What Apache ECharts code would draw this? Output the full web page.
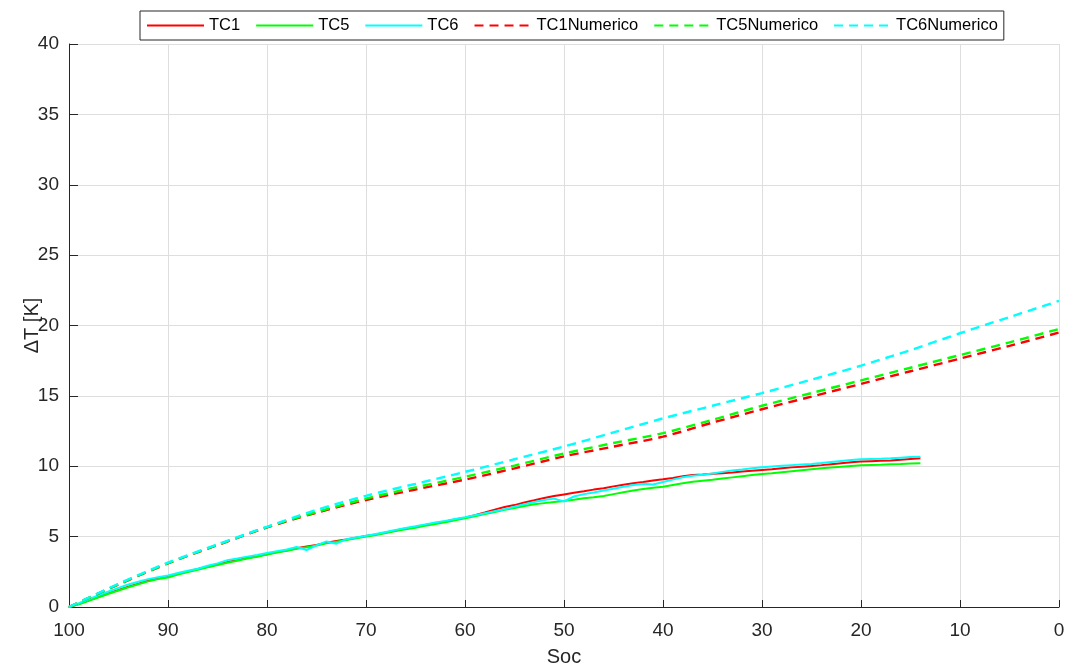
<!DOCTYPE html>
<html>
<head>
<meta charset="utf-8">
<script src="https://cdn.jsdelivr.net/npm/echarts@6/dist/echarts.min.js"></script>
<style>
  html, body { margin: 0; padding: 0; background: #fff; }
  #chart { width: 1073px; height: 668px; }
</style>
</head>
<body>
<div id="chart"></div>
<script>
// Measured temperature rise along the discharge (state of charge, %)
const socMeasured = [
  100, 99, 98, 97, 96, 95, 94, 93, 92, 91, 90, 89, 88, 87, 86, 85, 84, 83, 82, 81,
  80, 79, 78, 77, 76, 75, 74, 73, 72, 71, 70, 69, 68, 67, 66, 65, 64, 63, 62, 61,
  60, 59, 58, 57, 56, 55, 54, 53, 52, 51, 50, 49, 48, 47, 46, 45, 44, 43, 42, 41,
  40, 39, 38, 37, 36, 35, 34, 33, 32, 31, 30, 29, 28, 27, 26, 25, 24, 23, 22, 21,
  20, 19, 18, 17, 16, 15, 14
];
const tc1 = [
  0.00, 0.22, 0.47, 0.72, 0.98, 1.21, 1.45, 1.66, 1.87, 2.03, 2.16, 2.36, 2.52, 2.70, 2.86, 3.02, 3.19, 3.33, 3.48, 3.60,
  3.75, 3.90, 4.02, 4.18, 4.30, 4.41, 4.57, 4.69, 4.80, 4.92, 5.04, 5.16, 5.29, 5.43, 5.57, 5.68, 5.83, 5.96, 6.08, 6.22,
  6.35, 6.52, 6.71, 6.92, 7.10, 7.24, 7.43, 7.58, 7.74, 7.88, 8.00, 8.12, 8.22, 8.34, 8.43, 8.57, 8.69, 8.80, 8.88, 8.98,
  9.07, 9.17, 9.29, 9.38, 9.42, 9.47, 9.51, 9.56, 9.62, 9.68, 9.74, 9.79, 9.86, 9.92, 9.97, 10.02, 10.08, 10.15, 10.22, 10.28,
  10.33, 10.36, 10.39, 10.41, 10.46, 10.52, 10.57
];
const tc5 = [
  0.00, 0.20, 0.44, 0.69, 0.94, 1.17, 1.40, 1.62, 1.82, 1.98, 2.10, 2.31, 2.48, 2.65, 2.82, 2.98, 3.14, 3.29, 3.44, 3.57,
  3.72, 3.87, 3.99, 4.14, 4.25, 4.37, 4.52, 4.64, 4.76, 4.88, 5.00, 5.12, 5.25, 5.39, 5.52, 5.63, 5.78, 5.90, 6.02, 6.16,
  6.30, 6.45, 6.60, 6.74, 6.90, 7.03, 7.17, 7.30, 7.38, 7.46, 7.53, 7.62, 7.72, 7.80, 7.89, 8.02, 8.15, 8.28, 8.38, 8.47,
  8.55, 8.67, 8.79, 8.90, 8.97, 9.04, 9.13, 9.21, 9.29, 9.37, 9.45, 9.51, 9.58, 9.65, 9.72, 9.79, 9.85, 9.91, 9.97, 10.02,
  10.07, 10.09, 10.11, 10.14, 10.16, 10.19, 10.21
];
const tc6 = [
  0.00, 0.27, 0.56, 0.84, 1.10, 1.36, 1.60, 1.80, 1.98, 2.12, 2.24, 2.42, 2.58, 2.72, 2.93, 3.10, 3.33, 3.44, 3.58, 3.70,
  3.84, 3.97, 4.09, 4.26, 4.05, 4.38, 4.66, 4.50, 4.82, 4.94, 5.06, 5.18, 5.33, 5.48, 5.62, 5.73, 5.87, 6.00, 6.12, 6.25,
  6.38, 6.52, 6.66, 6.80, 6.94, 7.12, 7.30, 7.46, 7.60, 7.70, 7.50, 7.85, 8.02, 8.14, 8.28, 8.40, 8.54, 8.66, 8.75, 8.70,
  8.88, 9.05, 9.22, 9.32, 9.40, 9.49, 9.60, 9.69, 9.77, 9.86, 9.93, 9.98, 10.03, 10.08, 10.12, 10.16, 10.23, 10.31, 10.38, 10.44,
  10.50, 10.52, 10.54, 10.57, 10.61, 10.65, 10.68
];

// Numerical model predictions
const socModel = [100, 95, 90, 85, 80, 75, 70, 65, 60, 55, 50, 45, 40, 35, 30, 25, 20, 15, 10, 5, 0];
const tc1Num = [0, 1.60, 3.10, 4.40, 5.65, 6.70, 7.60, 8.35, 9.05, 9.85, 10.70, 11.40, 12.10, 13.10, 14.05, 14.95, 15.85, 16.75, 17.65, 18.55, 19.50];
const tc5Num = [0, 1.62, 3.12, 4.42, 5.68, 6.75, 7.70, 8.50, 9.25, 10.05, 10.90, 11.65, 12.35, 13.30, 14.30, 15.20, 16.10, 17.00, 17.90, 18.80, 19.75];
const tc6Num = [0, 1.65, 3.15, 4.45, 5.70, 6.90, 7.90, 8.75, 9.60, 10.50, 11.40, 12.40, 13.40, 14.30, 15.20, 16.15, 17.15, 18.25, 19.45, 20.60, 21.75];

const xTicks = { min: 0, max: 100, step: 10 };
const yTicks = { min: 0, max: 40, step: 5 };

const pairs = (xs, ys) => xs.map((x, i) => [x, ys[i]]);

const RED = '#ff0000', GREEN = '#00ff00', CYAN = '#00ffff';
const AXIS = '#262626';
const FONT = 'Liberation Sans, Arial, Helvetica, sans-serif';

function solid(name, color, data) {
  return {
    name, type: 'line', data, symbol: 'none', showSymbol: false,
    lineStyle: { color, width: 2 }, itemStyle: { color },
    animation: false
  };
}
function dashed(name, color, data) {
  return {
    name, type: 'line', data, symbol: 'none', showSymbol: false, smooth: 0.3,
    lineStyle: { color, width: 2.4, type: [9, 6] }, itemStyle: { color },
    animation: false
  };
}

const chart = echarts.init(document.getElementById('chart'), null, { renderer: 'canvas' });
chart.setOption({
  backgroundColor: '#ffffff',
  textStyle: { fontFamily: FONT },
  legend: {
    left: 140, top: 11,
    padding: [6, 6, 6, 6],
    itemGap: 15, itemWidth: 57, itemHeight: 2,
    itemStyle: { opacity: 0 },
    borderColor: AXIS, borderWidth: 1, backgroundColor: '#ffffff',
    textStyle: { fontSize: 16.5, color: '#000', fontFamily: FONT, lineHeight: 16 },
    data: ['TC1', 'TC5', 'TC6', 'TC1Numerico', 'TC5Numerico', 'TC6Numerico']
  },
  grid: { left: 69, right: 14, top: 44, bottom: 61, containLabel: false, outerBoundsMode: 'none' },
  xAxis: {
    type: 'value', inverse: true,
    min: xTicks.min, max: xTicks.max, interval: xTicks.step,
    name: 'Soc', nameLocation: 'middle', nameGap: 40, nameMoveOverlap: false,
    nameTextStyle: { fontSize: 20, color: AXIS, fontFamily: FONT },
    axisLine: { show: true, onZero: false, lineStyle: { color: AXIS, width: 1 } },
    axisTick: { show: true, inside: true, length: 7, lineStyle: { color: AXIS } },
    axisLabel: { fontSize: 19, color: AXIS, margin: 14, fontFamily: FONT },
    splitLine: { show: true, lineStyle: { color: '#dedede', width: 1 } }
  },
  yAxis: {
    type: 'value',
    min: yTicks.min, max: yTicks.max, interval: yTicks.step,
    name: 'ΔT [K]', nameLocation: 'middle', nameGap: 27, nameMoveOverlap: false,
    nameTextStyle: { fontSize: 20, color: AXIS, fontFamily: FONT },
    axisLine: { show: true, onZero: false, lineStyle: { color: AXIS, width: 1 } },
    axisTick: { show: true, inside: true, length: 9, lineStyle: { color: AXIS } },
    axisLabel: { fontSize: 19, color: AXIS, margin: 10, fontFamily: FONT },
    splitLine: { show: true, lineStyle: { color: '#dedede', width: 1 } }
  },
  series: [
    solid('TC1', RED, pairs(socMeasured, tc1)),
    solid('TC5', GREEN, pairs(socMeasured, tc5)),
    solid('TC6', CYAN, pairs(socMeasured, tc6)),
    dashed('TC1Numerico', RED, pairs(socModel, tc1Num)),
    dashed('TC5Numerico', GREEN, pairs(socModel, tc5Num)),
    dashed('TC6Numerico', CYAN, pairs(socModel, tc6Num))
  ]
});
</script>
</body>
</html>
